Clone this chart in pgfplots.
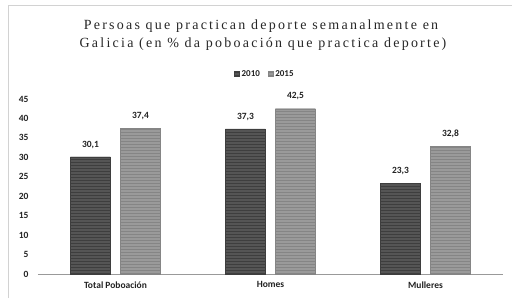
\documentclass[border=0pt]{standalone}
\usepackage{pgfplots}
\pgfplotsset{compat=1.18}
\usepackage{fontspec}
\usetikzlibrary{patterns}
\setmainfont{Carlito}
\newfontfamily\titlefont[LetterSpace=16]{Liberation Serif}
\definecolor{dk}{HTML}{555555}
\definecolor{dks}{HTML}{3E3E3E}
\definecolor{lt}{HTML}{9A9A9A}
\definecolor{lts}{HTML}{858585}
\definecolor{txt}{HTML}{222222}
\begin{document}
\begin{tikzpicture}[x=1pt,y=1pt]
\path[use as bounding box] (0,0) rectangle (512,298);
\draw[gray!35, line width=0.8pt] (8,0) -- (8,293) -- (512,293);
\node[font=\titlefont\fontsize{14}{16}\selectfont, text=black!85] at (261,272) {Persoas que practican deporte semanalmente en};
\node[font=\titlefont\fontsize{14}{16}\selectfont, text=black!85] at (263,254) {Galicia (en \% da poboación que practica deporte)};
\begin{axis}[
  at={(38pt,24pt)}, anchor=south west,
  scale only axis, width=465pt, height=175pt,
  xmin=-0.5, xmax=2.5, ymin=0, ymax=45,
  ybar=10pt, bar width=40pt,
  axis lines*=left,
  y axis line style={draw=none},
  x axis line style={draw=black!40, line width=0.8pt},
  major tick length=0pt,
  xtick=data, xticklabels={Total Poboación, Homes, Mulleres},
  ytick={0,5,...,45},
  tick label style={font=\bfseries\fontsize{9.5}{11}\selectfont, text=txt},
  yticklabel style={xshift=-6pt},
  xticklabel style={yshift=-4pt},
  /pgf/number format/assume math mode=true,
  nodes near coords,
  nodes near coords style={font=\bfseries\fontsize{9.5}{11}\selectfont, text=txt, yshift=5pt,
    /pgf/number format/.cd, fixed, fixed zerofill, precision=1, use comma},
  legend style={at={(0.488,1.143)}, anchor=center, draw=none, legend columns=2,
    font=\bfseries\fontsize{9}{11}\selectfont, text=txt,
    /tikz/every even column/.append style={column sep=6pt}},
  legend image code/.code={\fill[#1] (0pt,-2.5pt) rectangle (5pt,2.5pt);},
]
\addplot[fill=dk, draw=dks, postaction={pattern=horizontal lines, pattern color=dks}] coordinates {(0,30.1) (1,37.3) (2,23.3)};
\addplot[fill=lt, draw=lts, postaction={pattern=horizontal lines, pattern color=lts}] coordinates {(0,37.4) (1,42.5) (2,32.8)};
\legend{2010,2015}
\end{axis}
\end{tikzpicture}
\end{document}
